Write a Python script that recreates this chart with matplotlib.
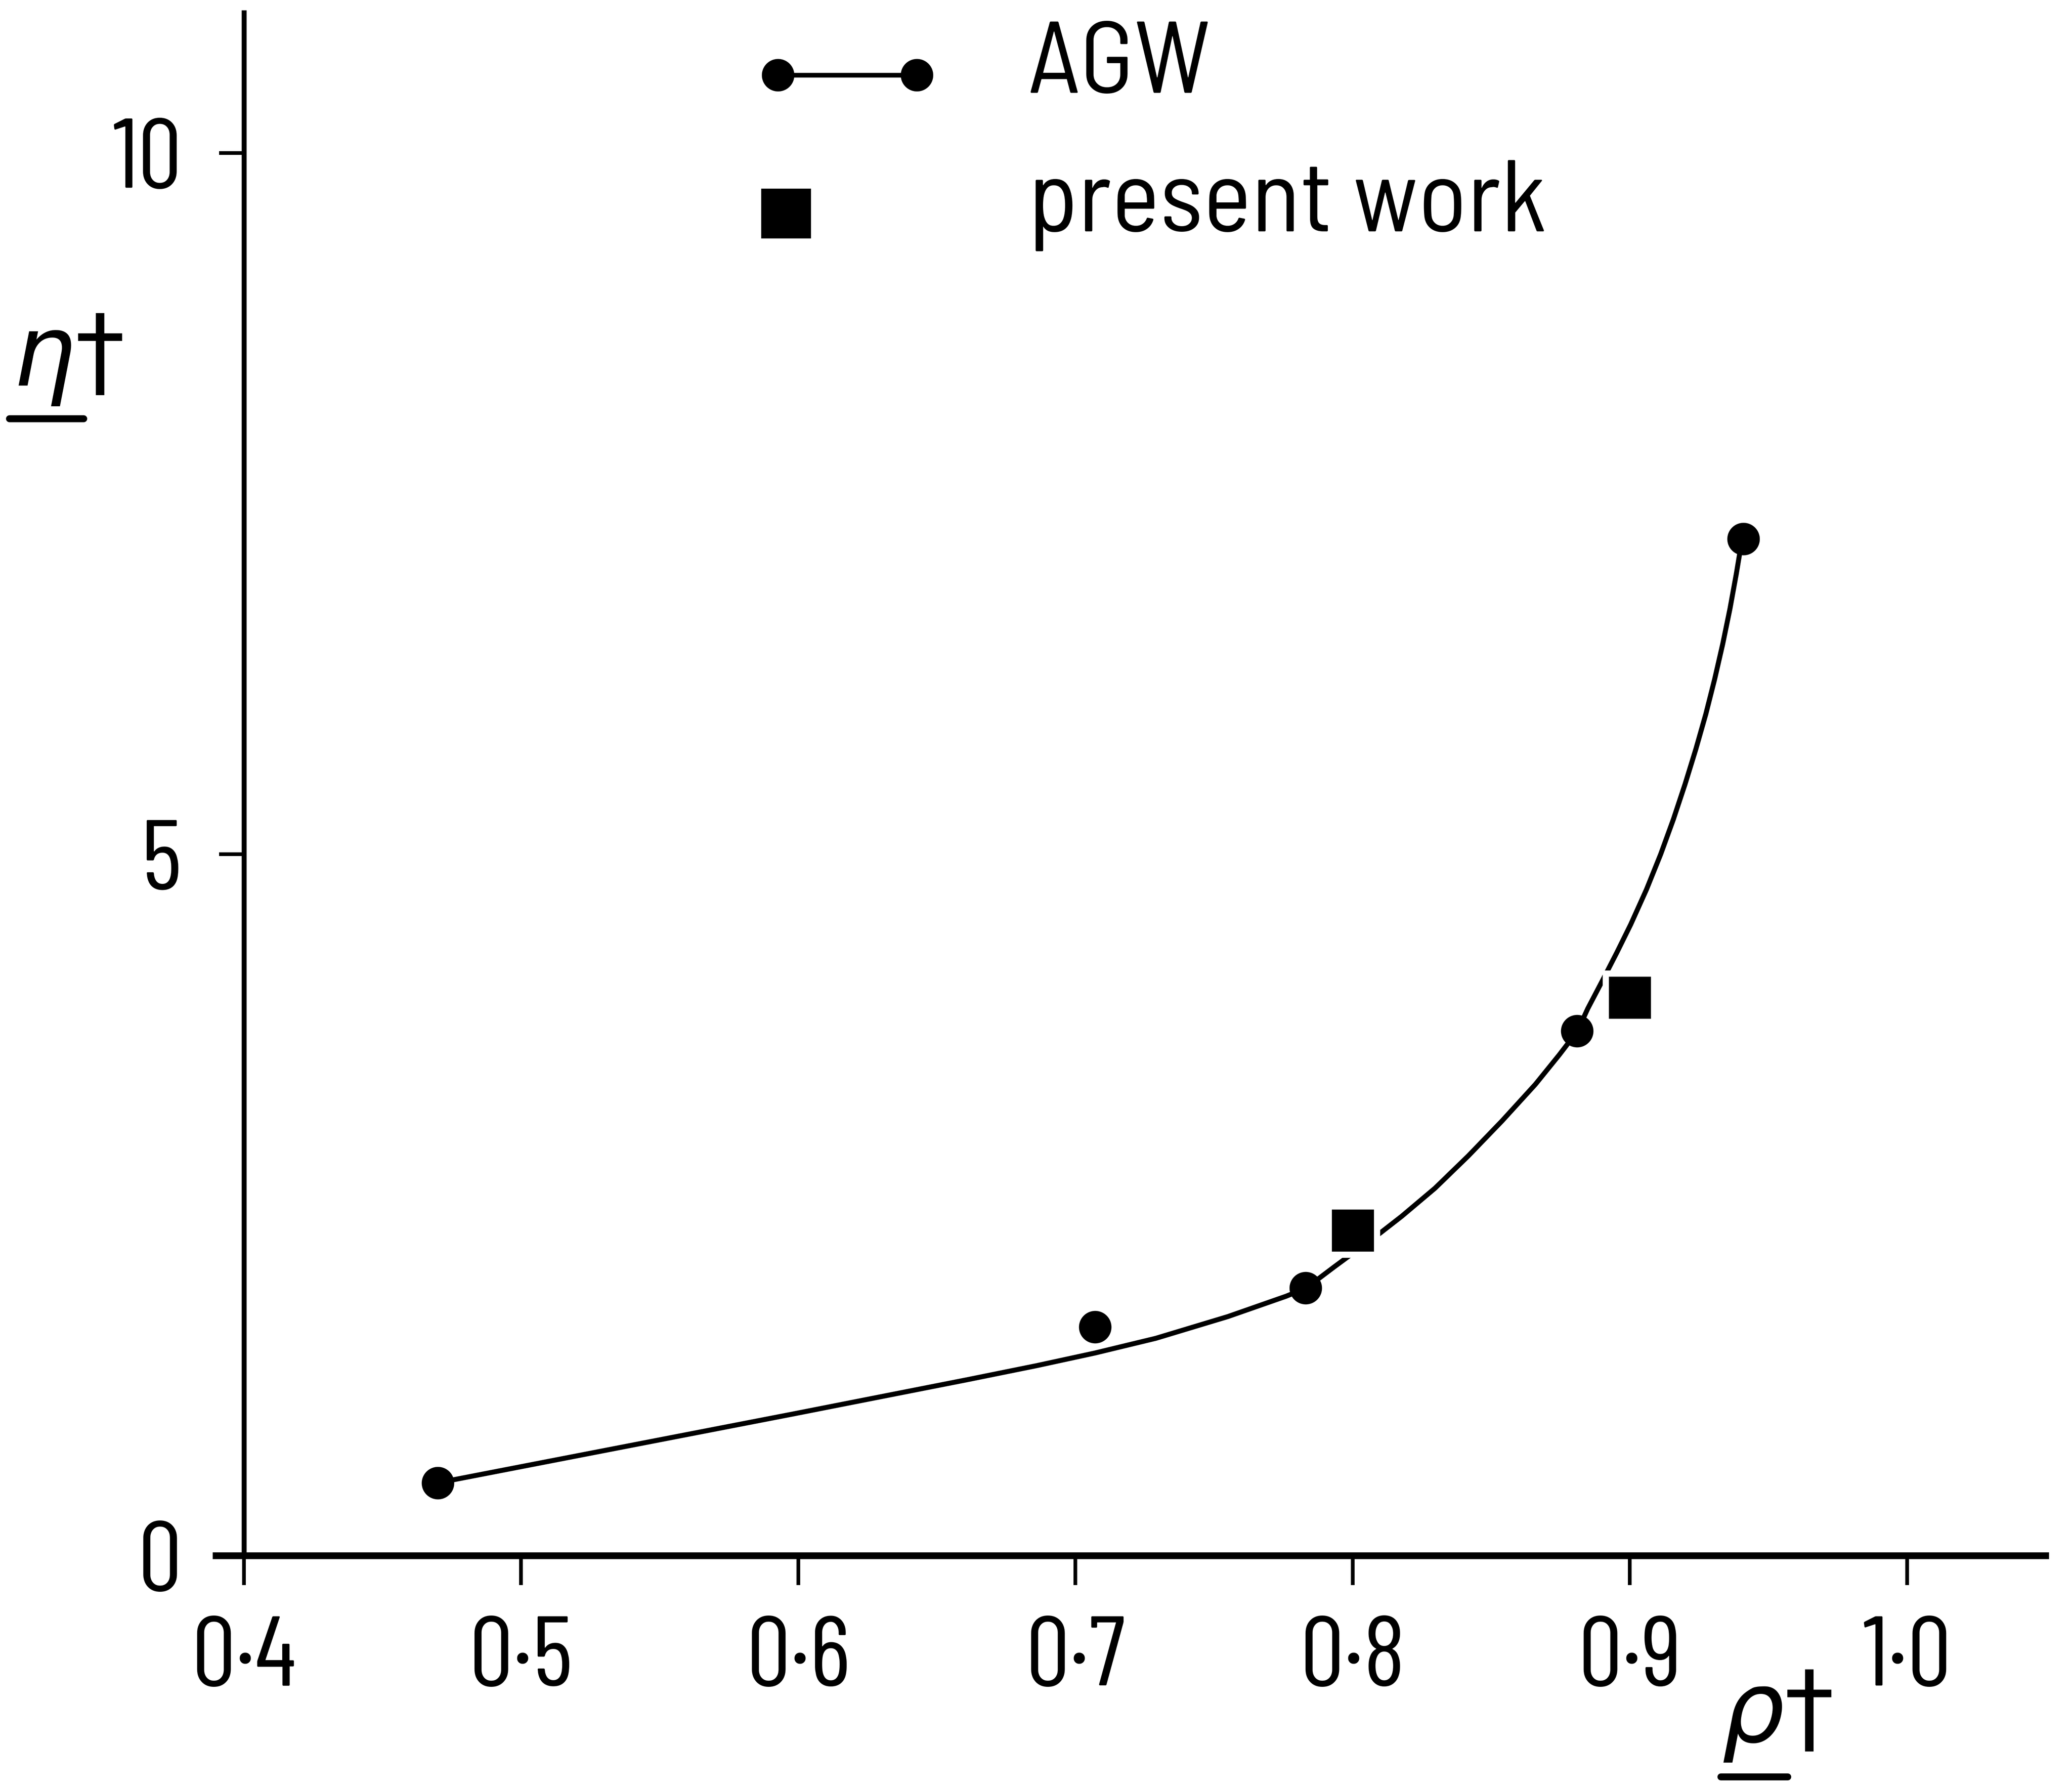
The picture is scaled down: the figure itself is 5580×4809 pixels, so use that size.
# Viscosidad reducida frente a densidad reducida: datos AGW y resultados propios.
import numpy as np
import matplotlib
matplotlib.use('Agg')
import matplotlib.pyplot as plt
from matplotlib.lines import Line2D
from matplotlib.legend_handler import HandlerLine2D

# Puntos de AGW (circulos)
agw_rho = [0.470, 0.707, 0.783, 0.881, 0.941]
agw_eta = [0.52, 1.63, 1.91, 3.74, 7.25]

# Resultados de este trabajo (cuadrados)
pw_rho = [0.80, 0.90]
pw_eta = [2.32, 3.98]

# Curva trazada a mano sobre los puntos AGW
curva_rho = [0.4700, 0.5980, 0.6610, 0.6860, 0.7070, 0.7290, 0.7550, 0.7760,
             0.7832, 0.7934, 0.8099, 0.8177, 0.8297, 0.8417, 0.8539, 0.8659,
             0.8745, 0.8811, 0.8848, 0.8901, 0.8953, 0.9003, 0.9060, 0.9111,
             0.9157, 0.9199, 0.9238, 0.9274, 0.9306, 0.9335, 0.9361, 0.9384,
             0.9405]
curva_eta = [0.520, 1.010, 1.255, 1.355, 1.445, 1.550, 1.705, 1.850,
             1.908, 2.060, 2.300, 2.420, 2.620, 2.850, 3.100, 3.360,
             3.570, 3.740, 3.900, 4.100, 4.300, 4.500, 4.750, 5.000,
             5.250, 5.500, 5.750, 6.000, 6.250, 6.500, 6.750, 7.000,
             7.250]

xticks = [0.4, 0.5, 0.6, 0.7, 0.8, 0.9, 1.0]
xtick_labels = ['0·4', '0·5', '0·6', '0·7', '0·8', '0·9', '1·0']
yticks = [0, 5, 10]
ytick_labels = ['0', '5', '10']

plt.rcParams['font.family'] = ['Barlow Condensed', 'DejaVu Sans']
plt.rcParams['mathtext.fontset'] = 'dejavusans'


class HandlerClave(HandlerLine2D):
    """Clave de leyenda con los marcadores algo bajados respecto al texto.
    Con izquierda=True deja un unico marcador en el extremo izquierdo."""
    def __init__(self, bajada=0.18, izquierda=False, **kw):
        super().__init__(**kw)
        self._bajada = bajada
        self._izquierda = izquierda

    def get_xdata(self, legend, xdescent, ydescent, width, height, fontsize):
        if not self._izquierda:
            return super().get_xdata(legend, xdescent, ydescent, width, height, fontsize)
        x = np.array([-xdescent + (self._marker_pad + 0.08) * fontsize])
        return x, x

    def create_artists(self, legend, orig_handle, xdescent, ydescent, width,
                       height, fontsize, trans):
        artistas = super().create_artists(legend, orig_handle, xdescent, ydescent,
                                          width, height, fontsize, trans)
        for a in artistas:
            a.set_ydata(np.asarray(a.get_ydata()) - self._bajada * fontsize)
        return artistas


fig = plt.figure(figsize=(18.6, 16.0333), dpi=300)
ax = fig.add_axes([0.1043, 0.1289, 0.8830, 0.8638])

# Curva y puntos
ax.plot(curva_rho, curva_eta, color='black', linewidth=3.2, zorder=2,
        solid_joinstyle='round')
ax.plot(agw_rho, agw_eta, linestyle='none', marker='o', markersize=20,
        color='black', zorder=3)
# Los cuadrados llevan borde blanco para cortar la curva donde la tocan
ax.plot(pw_rho, pw_eta, linestyle='none', marker='s', markersize=31,
        markerfacecolor='black', markeredgecolor='white', markeredgewidth=4,
        zorder=4)

# Ejes: solo izquierdo e inferior, cruzando en (0.4, 0)
ax.set_xlim(0.39, 1.05)
ax.set_ylim(0, 11.0)
for lado in ('top', 'right'):
    ax.spines[lado].set_visible(False)
ax.spines['left'].set_position(('data', 0.4))
ax.spines['left'].set_linewidth(3.2)
ax.spines['bottom'].set_linewidth(4.4)

ax.set_xticks(xticks)
ax.set_xticklabels(xtick_labels)
ax.set_yticks(yticks)
ax.set_yticklabels(ytick_labels)
ax.tick_params(axis='x', direction='out', length=19, width=2.4, pad=20,
               labelsize=64)
ax.tick_params(axis='y', direction='out', length=16, width=2.4, pad=24,
               labelsize=64)

# Etiquetas de ejes (subrayadas)
ax.set_ylabel(r'$\eta$†', rotation=0, fontsize=64, ha='center', va='center',
              family=['DejaVu Sans'])
ax.yaxis.set_label_coords(-0.081, 0.776)
ax.set_xlabel(r'$\rho$†', fontsize=64, ha='center', va='center',
              family=['DejaVu Sans'])
ax.xaxis.set_label_coords(0.853, -0.103)
ax.plot([-0.113, -0.0725], [0.737, 0.737], color='black', linewidth=4.5,
        transform=ax.transAxes, clip_on=False, solid_capstyle='round')
ax.plot([0.8224, 0.859], [-0.1432, -0.1432], color='black', linewidth=4.5,
        transform=ax.transAxes, clip_on=False, solid_capstyle='round')

# Leyenda
h_agw = Line2D([], [], color='black', linewidth=3.0, marker='o', markersize=20)
h_pw = Line2D([], [], linestyle='none', marker='s', markersize=31, color='black')
ax.legend([h_agw, h_pw], ['AGW', 'present work'],
          handler_map={h_agw: HandlerClave(numpoints=2),
                       h_pw: HandlerClave(numpoints=1, izquierda=True)},
          loc='upper left', bbox_to_anchor=(0.3606, 0.988),
          bbox_transform=fig.transFigure, frameon=False,
          prop={'family': 'Barlow Semi Condensed', 'size': 66},
          handlelength=1.96, handletextpad=0.79, labelspacing=0.46,
          borderpad=0, borderaxespad=0)

fig.savefig('out.png', dpi=300)
